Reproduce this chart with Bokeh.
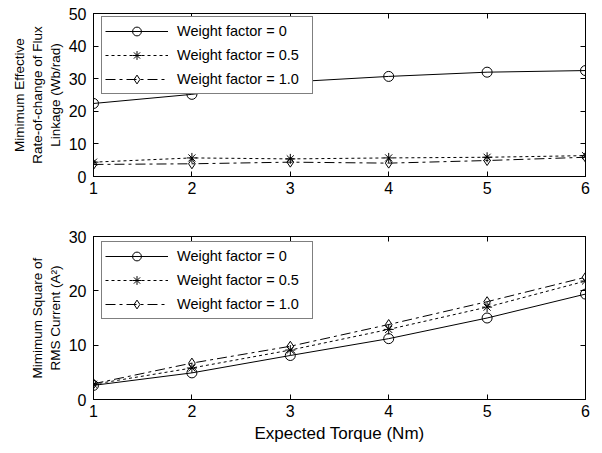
from bokeh.plotting import figure
from bokeh.layouts import column
from bokeh.models import LinearAxis, FixedTicker, Range1d
from bokeh.embed import file_html
from bokeh.resources import INLINE

# ---- data ----
torque = [1, 2, 3, 4, 5, 6]
flux_w0 = [22.4, 25.2, 29.0, 30.7, 32.0, 32.5]
flux_w05 = [4.4, 5.7, 5.4, 5.7, 5.9, 6.4]
flux_w10 = [3.7, 3.9, 4.4, 4.1, 4.9, 5.9]
curr_w0 = [2.6, 4.9, 8.1, 11.2, 15.0, 19.4]
curr_w05 = [2.8, 5.8, 9.1, 12.9, 17.0, 21.8]
curr_w10 = [2.9, 6.7, 9.8, 13.8, 18.0, 22.5]
series_labels = ["Weight factor = 0", "Weight factor = 0.5", "Weight factor = 1.0"]
x_ticks = [1, 2, 3, 4, 5, 6]
flux_ticks = [0, 10, 20, 30, 40, 50]
curr_ticks = [0, 10, 20, 30]
flux_label = "Mimimum Effective\nRate-of-change of Flux\nLinkage (Wb/rad)"
curr_label = "Mimimum Square of\nRMS Current (A\u00b2)"
x_label = "Expected Torque (Nm)"

FONT = "Liberation Sans"
styles = [
    dict(line_dash="solid", marker="circle"),
    dict(line_dash="3 3", marker="asterisk"),
    dict(line_dash="10 4 3 4", marker="diamond"),
]


def style_axis(ax, ticks, labels=True):
    ax.axis_line_color = "black"
    ax.axis_line_width = 1
    ax.major_tick_line_color = "black"
    ax.major_tick_in = 5
    ax.major_tick_out = 0
    ax.minor_tick_line_color = None
    ax.major_label_text_font = FONT
    ax.major_label_text_font_size = "16px"
    ax.major_label_text_color = "black"
    if not labels:
        ax.major_label_overrides = {t: "" for t in ticks}
        ax.major_label_standoff = 0


def make_plot(ys, yticks, ymax, ylabel, height, top, bottom, legend_y,
              ylabel_size, ylabel_lh, ylabel_standoff, xlabel=None):
    p = figure(width=602, height=height, output_backend="svg", toolbar_location=None,
               x_range=Range1d(1, 6), y_range=Range1d(0, ymax),
               min_border_left=93, min_border_right=17,
               min_border_top=top, min_border_bottom=bottom)
    p.xgrid.visible = False
    p.ygrid.visible = False
    p.outline_line_color = "black"
    p.outline_line_width = 1
    p.background_fill_color = "white"
    p.border_fill_color = "white"

    for y, st, lab in zip(ys, styles, series_labels):
        p.line(torque, y, line_color="black", line_width=1, line_dash=st["line_dash"],
               legend_label=lab)
        p.scatter(torque, y, marker=st["marker"], size=10, line_color="black",
                  fill_color=None, line_width=1, legend_label=lab)

    p.xaxis.ticker = FixedTicker(ticks=x_ticks)
    p.yaxis.ticker = FixedTicker(ticks=yticks)
    style_axis(p.xaxis[0], x_ticks)
    style_axis(p.yaxis[0], yticks)
    p.xaxis.major_label_standoff = 5
    p.yaxis.major_label_standoff = 7

    p.yaxis.axis_label = ylabel
    p.yaxis.axis_label_text_font = FONT
    p.yaxis.axis_label_text_font_size = ylabel_size
    p.yaxis.axis_label_text_line_height = ylabel_lh
    p.yaxis.axis_label_text_font_style = "normal"
    p.yaxis.axis_label_text_color = "black"
    p.yaxis.axis_label_standoff = ylabel_standoff

    if xlabel:
        p.xaxis.axis_label = xlabel
        p.xaxis.axis_label_text_font = FONT
        p.xaxis.axis_label_text_font_size = "17px"
        p.xaxis.axis_label_text_font_style = "normal"
        p.xaxis.axis_label_text_color = "black"
        p.xaxis.axis_label_standoff = 4

    right = LinearAxis(ticker=FixedTicker(ticks=yticks))
    style_axis(right, yticks, labels=False)
    p.add_layout(right, "right")
    above = LinearAxis(ticker=FixedTicker(ticks=x_ticks))
    style_axis(above, x_ticks, labels=False)
    p.add_layout(above, "above")

    lg = p.legend[0]
    lg.location = (8, legend_y)
    lg.background_fill_color = "white"
    lg.background_fill_alpha = 1
    lg.border_line_color = "black"
    lg.border_line_width = 1
    lg.label_text_font = FONT
    lg.label_text_font_size = "14.5px"
    lg.label_text_color = "black"
    lg.glyph_width = 63
    lg.glyph_height = 22
    lg.label_height = 22
    lg.label_width = 132
    lg.label_standoff = 9
    lg.spacing = 2
    lg.padding = 3
    lg.margin = 0
    return p


p1 = make_plot([flux_w0, flux_w05, flux_w10], flux_ticks, 50, flux_label,
               height=206, top=13, bottom=30, legend_y=82,
               ylabel_size="13.5px", ylabel_lh=1.2, ylabel_standoff=3)
p2 = make_plot([curr_w0, curr_w05, curr_w10], curr_ticks, 30, curr_label,
               height=247, top=30, bottom=54, legend_y=80,
               ylabel_size="13.5px", ylabel_lh=1.2, ylabel_standoff=3, xlabel=x_label)

layout = column(p1, p2, spacing=0)
open("out.html", "w").write(file_html(layout, INLINE))
